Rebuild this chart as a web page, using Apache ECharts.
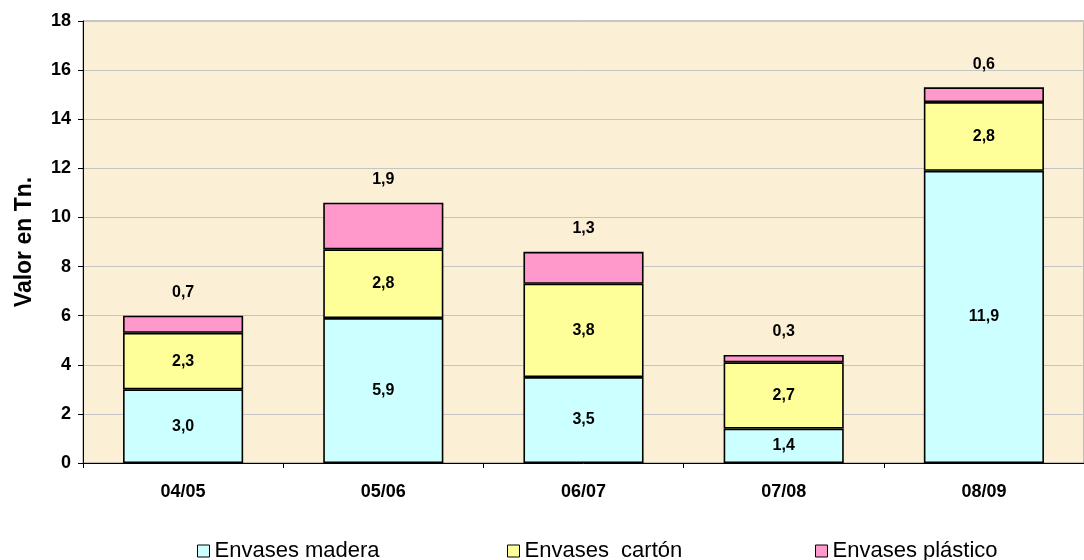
<!DOCTYPE html>
<html>
<head>
<meta charset="utf-8">
<script src="https://cdn.jsdelivr.net/npm/echarts@6/dist/echarts.min.js"></script>
<style>
  html, body { margin: 0; padding: 0; background: #ffffff; }
  #chart { width: 1084px; height: 560px; }
</style>
</head>
<body>
<div id="chart"></div>
<script>
// Campaigns and tonnage per packaging type
const categories = ['04/05', '05/06', '06/07', '07/08', '08/09'];
const madera   = [3.0, 5.9, 3.5, 1.4, 11.9];
const carton   = [2.3, 2.8, 3.8, 2.7, 2.8];
const plastico = [0.7, 1.9, 1.3, 0.3, 0.6];
const seriesNames = ['Envases madera', 'Envases  cartón', 'Envases plástico'];
const seriesColors = ['#CCFFFF', '#FFFF99', '#FF99CC'];
const yTicks = [0, 2, 4, 6, 8, 10, 12, 14, 16, 18];

const fmt = v => v.toFixed(1).replace('.', ',');
const font = 'Arial, "Liberation Sans", sans-serif';

function barSeries(i, data, labelPos, labelDist) {
  return {
    name: seriesNames[i],
    type: 'bar',
    stack: 'total',
    data: data,
    barWidth: '60%',
    itemStyle: { color: seriesColors[i], borderColor: '#000000', borderWidth: 1.6 },
    label: {
      show: true,
      position: labelPos,
      distance: labelDist,
      formatter: p => fmt(p.value),
      color: '#000000',
      fontFamily: font,
      fontWeight: 'bold',
      fontSize: 16
    }
  };
}

// one legend block per series so each entry sits at its own spot
const legendLefts = [192, 502, 810];
const legends = seriesNames.map((n, i) => ({
  top: 535,
  left: legendLefts[i],
  itemWidth: 12,
  itemHeight: 12,
  itemGap: 6,
  icon: 'rect',
  textStyle: { fontSize: 22, color: '#000000', fontFamily: font },
  data: [{ name: n, itemStyle: { borderColor: '#000000', borderWidth: 1 } }]
}));

const chart = echarts.init(document.getElementById('chart'));
chart.setOption({
  animation: false,
  textStyle: { fontFamily: font },
  grid: {
    left: 83, right: 0, top: 21, bottom: 97,
    show: true,
    backgroundColor: '#FBEFD6',
    borderColor: '#8a8a8a',
    borderWidth: 1
  },
  legend: legends,
  xAxis: {
    type: 'category',
    data: categories,
    axisLine: { lineStyle: { color: '#000000', width: 1 } },
    axisTick: { show: true, length: 5, lineStyle: { color: '#000000' } },
    axisLabel: { color: '#000000', fontWeight: 'bold', fontSize: 18, margin: 20 },
    splitLine: { show: false }
  },
  yAxis: {
    type: 'value',
    min: yTicks[0],
    max: yTicks[yTicks.length - 1],
    interval: 2,
    name: 'Valor en Tn.',
    nameLocation: 'middle',
    nameGap: 47,
    nameTextStyle: { color: '#000000', fontWeight: 'bold', fontSize: 23 },
    axisLine: { show: true, lineStyle: { color: '#000000', width: 1 } },
    axisTick: { show: true, length: 5, lineStyle: { color: '#000000' } },
    axisLabel: { color: '#000000', fontWeight: 'bold', fontSize: 18, margin: 12 },
    splitLine: { show: true, lineStyle: { color: '#c4c4c4', width: 1 } }
  },
  series: [
    barSeries(0, madera, 'inside', 0),
    barSeries(1, carton, 'inside', 0),
    barSeries(2, plastico, 'top', 15)
  ]
});
</script>
</body>
</html>
